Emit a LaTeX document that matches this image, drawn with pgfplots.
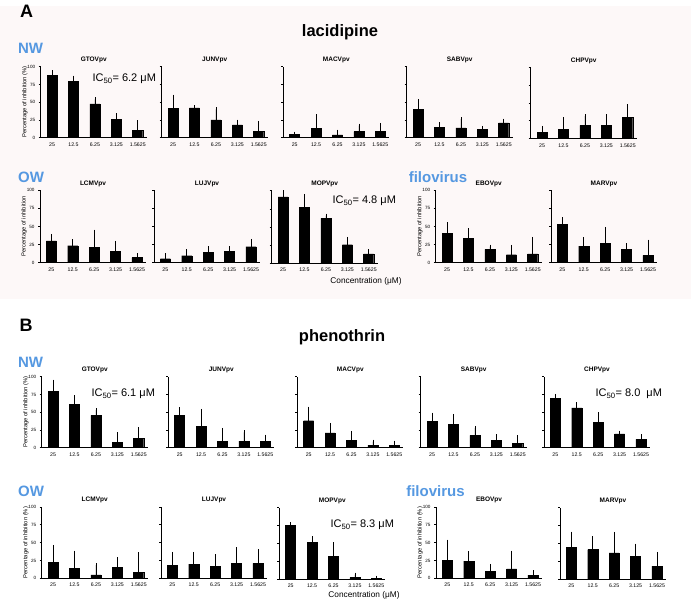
\documentclass[border=0pt]{standalone}
\usepackage{fontspec}
\setmainfont{Liberation Sans}
\usepackage{pgfplots}
\usepackage{pgfplotstable}
\pgfplotsset{compat=1.18}

\definecolor{nwblue}{RGB}{85,152,225}
\definecolor{bgpink}{RGB}{253,248,248}
\newcommand{\fs}[1]{\fontsize{#1}{#1}\selectfont}

% columns: x position, mean inhibition (%), upper error
% --- A: lacidipine ---
\pgfplotstableread{
x y e
0 88 4
1 79 5.5
2 47.5 6.5
3 26 5.5
4 10 12
}\tAGTOV
\pgfplotstableread{
x y e
0 41 17
1 42 0.7
2 25 15
3 18 4.5
4 8.5 12.5
}\tAJUNV
\pgfplotstableread{
x y e
0 5 0.6
1 13 17
2 4 4.5
3 8.5 8.5
4 9 9
}\tAMACV
\pgfplotstableread{
x y e
0 40 11
1 15 4
2 14 12
3 12 2
4 21 3
}\tASABV
\pgfplotstableread{
x y e
0 9 6
1 12.5 14.5
2 18.6 13
3 19 12
4 30 15.5
}\tACHPV
\pgfplotstableread{
x y e
0 30 7
1 23.4 6
2 21 21.7
3 16 11.5
4 7 3.5
}\tALCMV
\pgfplotstableread{
x y e
0 5.5 4.5
1 9.6 6.4
2 13.8 6
3 16 4
4 22 8
}\tALUJV
\pgfplotstableread{
x y e
0 91.6 7
1 76.7 16.3
2 62 3.6
3 25.6 8
4 13 3.7
}\tAMOPV
\pgfplotstableread{
x y e
0 40.7 12
1 33.3 11.7
2 18.5 3.5
3 11 10.8
4 12 21
}\tAEBOV
\pgfplotstableread{
x y e
0 52.8 7
1 23 9.4
2 26.4 20.4
3 18.5 5.5
4 10 19
}\tAMARV
% --- B: phenothrin ---
\pgfplotstableread{
x y e
0 79 14
1 61.5 9.5
2 45.5 7.5
3 7.5 11.3
4 13 13
}\tBGTOV
\pgfplotstableread{
x y e
0 46 8.5
1 30 22
2 9.4 15.6
3 9.4 12.2
4 9 6.5
}\tBJUNV
\pgfplotstableread{
x y e
0 38 17
1 21 11
2 10 11
3 3.3 5.2
4 3 4
}\tBMACV
\pgfplotstableread{
x y e
0 37.5 9
1 33 12
2 17.4 10.6
3 10 6
4 6.6 8.4
}\tBSABV
\pgfplotstableread{
x y e
0 70 3
1 56 5
2 35.5 11.5
3 19.5 1.9
4 11.6 4.4
}\tBCHPV
\pgfplotstableread{
x y e
0 22 22
1 14.4 21.6
2 4.7 13.9
3 15.3 11.2
4 8 25.5
}\tBLCMV
\pgfplotstableread{
x y e
0 18.6 15.4
1 20 14
2 16.7 14.3
3 21.4 19.1
4 21 17
}\tBLUJV
\pgfplotstableread{
x y e
0 75.3 1
1 51.6 5.1
2 31.6 16.8
3 2 4
4 1 1
}\tBMOPV
\pgfplotstableread{
x y e
0 24.8 26.6
1 24 11
2 9.6 7.8
3 13.3 22.5
4 4.6 3.7
}\tBEBOV
\pgfplotstableread{
x y e
0 44 19.4
1 41 16
2 36.6 26.4
3 31.5 15.3
4 18 17
}\tBMARV

\pgfplotsset{
  panel/.style={
    scale only axis, width=106pt, anchor=south west,
    xmin=-0.53, xmax=4.42, ymin=0, ymax=100,
    axis lines=left, axis line style={-, line width=0.7pt},
    xtick={0,...,4}, xticklabels={25,12.5,6.25,3.125,1.5625},
    ytick={0,25,50,75,100}, yticklabels={},
    x tick style={draw=none}, y tick style={line width=0.6pt, black},
    tick align=outside, major tick length=2pt,
    xticklabel style={font=\fs{5.2}, yshift=0.5pt},
    yticklabel style={font=\fs{4.6}},
    every axis title/.style={at={(0.5,1)}, anchor=center, yshift=6.5pt, font=\bfseries\fs{6.5}},
    every axis y label/.style={at={(axis description cs:-0.15,0.5)}, rotate=90, anchor=center, font=\fs{5.8}},
    ybar, bar width=0.47,
  },
  labelled/.style={yticklabels={0,25,50,75,100}, ylabel={Percentage of inhibition (\%)}},
  labelledb/.style={yticklabels={0,25,50,75,100}, ylabel={Percentage of inhibition}},
  bars/.style={fill=black, draw=black,
    error bars/.cd, y dir=plus, y explicit,
    error bar style={line width=0.7pt, black},
    error mark options={mark size=2pt, line width=0.7pt, black}},
}

\newcommand{\panel}[6]{%
  \begin{axis}[panel, at={(#1pt,-#2pt)}, height=#3pt, title={#4}, #5]
    \addplot[bars] table[x=x, y=y, y error=e] {#6};
  \end{axis}}

\begin{document}
\begin{tikzpicture}
\useasboundingbox (0,0) rectangle (696pt,-601pt);
\fill[bgpink] (0,-6pt) rectangle (691pt,-299pt);

% ---- A ----
\node[font=\bfseries\fs{18}] at (26.5pt,-11.7pt) {A};
\node[font=\bfseries\fs{16.5}] at (340pt,-32pt) {lacidipine};
\node[font=\bfseries\fs{15}, text=nwblue] at (30.5pt,-48.5pt) {NW};
\node[font=\bfseries\fs{15}, text=nwblue] at (31pt,-177.5pt) {OW};
\node[font=\bfseries\fs{15}, text=nwblue] at (438pt,-177pt) {filovirus};

\panel{40.7}{137.7}{71}{GTOVpv}{labelled}{\tAGTOV}
\panel{161.7}{137.7}{71}{JUNVpv}{}{\tAJUNV}
\panel{283.3}{137.7}{71}{MACVpv}{}{\tAMACV}
\panel{406.7}{137.7}{71}{SABVpv}{}{\tASABV}
\panel{530.7}{138.5}{71}{CHPVpv}{}{\tACHPV}

\panel{40}{262.7}{72.5}{LCMVpv}{labelledb}{\tALCMV}
\panel{154}{262.7}{72.5}{LUJVpv}{}{\tALUJV}
\panel{271.7}{263.3}{72.5}{MOPVpv}{}{\tAMOPV}
\panel{435.7}{262.7}{72.5}{EBOVpv}{labelledb}{\tAEBOV}
\panel{551}{262.7}{72.5}{MARVpv}{}{\tAMARV}

\node[font=\fs{11}, anchor=west] at (89pt,-79pt) {IC\textsubscript{50}= 6.2 μM};
\node[font=\fs{11}, anchor=west] at (329pt,-200.7pt) {IC\textsubscript{50}= 4.8 μM};
\node[font=\fs{8.3}] at (366pt,-281pt) {Concentration (μM)};

% ---- B ----
\node[font=\bfseries\fs{18}] at (26pt,-325pt) {B};
\node[font=\bfseries\fs{16.5}] at (342pt,-337pt) {phenothrin};
\node[font=\bfseries\fs{15}, text=nwblue] at (30.5pt,-362.7pt) {NW};
\node[font=\bfseries\fs{15}, text=nwblue] at (31pt,-491.7pt) {OW};
\node[font=\bfseries\fs{15}, text=nwblue] at (435.5pt,-491pt) {filovirus};

\panel{41.7}{447.7}{71}{GTOVpv}{labelled}{\tBGTOV}
\panel{168.3}{447.7}{71}{JUNVpv}{}{\tBJUNV}
\panel{297.3}{447.7}{71}{MACVpv}{}{\tBMACV}
\panel{420.7}{447.7}{71}{SABVpv}{}{\tBSABV}
\panel{544}{447.7}{71}{CHPVpv}{}{\tBCHPV}

\panel{41.7}{578.3}{71.5}{LCMVpv}{labelled}{\tBLCMV}
\panel{161}{578.3}{71.5}{LUJVpv}{}{\tBLUJV}
\panel{279.3}{579}{71.5}{MOPVpv}{}{\tBMOPV}
\panel{436}{578.3}{71.5}{EBOVpv}{labelled}{\tBEBOV}
\panel{560}{579}{71.5}{MARVpv}{}{\tBMARV}

\node[font=\fs{11}, anchor=west] at (88pt,-394pt) {IC\textsubscript{50}= 6.1 μM};
\node[font=\fs{11}, anchor=west] at (592pt,-394pt) {IC\textsubscript{50}= 8.0~ μM};
\node[font=\fs{11}, anchor=west] at (327pt,-525pt) {IC\textsubscript{50}= 8.3 μM};
\node[font=\fs{8.3}] at (364pt,-595pt) {Concentration (μM)};
\end{tikzpicture}
\end{document}
